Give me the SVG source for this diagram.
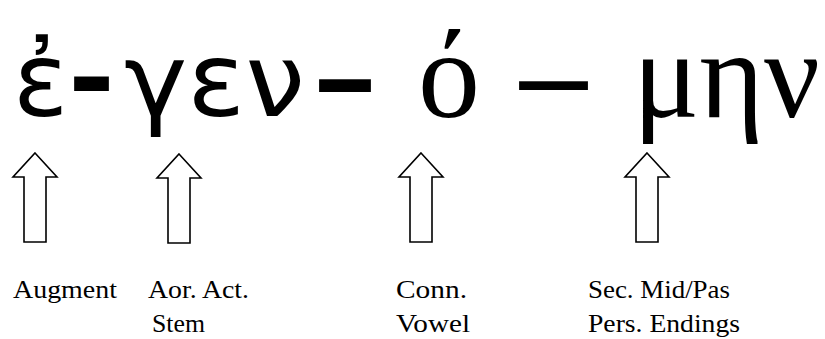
<svg xmlns="http://www.w3.org/2000/svg" xmlns:xlink="http://www.w3.org/1999/xlink" width="825" height="339" viewBox="0 0 825 339">
<style>
.sans{font-family:"DejaVu Sans","Noto Sans",sans-serif;font-size:102px;fill:#000}
.ser{font-family:"Liberation Serif","DejaVu Serif",serif;font-size:124px;fill:#000}
.dash{font-weight:bold}
.lbl{font-family:"Liberation Serif","DejaVu Serif",serif;font-size:26px;fill:#000}
.arr{fill:#fff;stroke:#000;stroke-width:1.6;stroke-linejoin:miter}
</style>
<defs>
<path id="blk" d="M0,0 L22,24 L11,24 L11,89 L-11,89 L-11,24 L-22,24 Z"/>
</defs>
<g id="word">
<g id="augment-part"><text class="sans" x="13" y="116">ἐ</text></g>
<g id="hyphen1"><text class="sans dash" x="68" y="113" textLength="47" lengthAdjust="spacingAndGlyphs">-</text></g>
<g id="stem-part"><text class="sans" x="124" y="116" textLength="181" lengthAdjust="spacingAndGlyphs">γεν</text></g>
<g id="dash1"><text class="sans dash" x="312" y="113" textLength="66" lengthAdjust="spacingAndGlyphs">–</text></g>
<g id="vowel-part"><text class="ser" x="418" y="117">ό</text></g>
<g id="dash2"><text class="ser dash" x="520" y="115" textLength="67" lengthAdjust="spacingAndGlyphs">–</text></g>
<g id="ending-part"><text class="ser" x="633" y="117" textLength="187" lengthAdjust="spacingAndGlyphs">μην</text></g>
</g>
<g id="connectors">
<use xlink:href="#blk" class="arr" transform="translate(35,153)"/>
<use xlink:href="#blk" class="arr" transform="translate(179,154)"/>
<use xlink:href="#blk" class="arr" transform="translate(421,153)"/>
<use xlink:href="#blk" class="arr" transform="translate(647,153)"/>
</g>
<g id="label-augment"><text class="lbl" x="13" y="298" textLength="104" lengthAdjust="spacingAndGlyphs">Augment</text></g>
<g id="label-stem"><text class="lbl" x="148" y="298" textLength="101" lengthAdjust="spacingAndGlyphs">Aor. Act.</text><text class="lbl" x="152" y="332" textLength="53" lengthAdjust="spacingAndGlyphs">Stem</text></g>
<g id="label-vowel"><text class="lbl" x="396" y="298" textLength="71" lengthAdjust="spacingAndGlyphs">Conn.</text><text class="lbl" x="396" y="332" textLength="74" lengthAdjust="spacingAndGlyphs">Vowel</text></g>
<g id="label-ending"><text class="lbl" x="588" y="298" textLength="142" lengthAdjust="spacingAndGlyphs">Sec. Mid/Pas</text><text class="lbl" x="588" y="332" textLength="152" lengthAdjust="spacingAndGlyphs">Pers. Endings</text></g>
</svg>
